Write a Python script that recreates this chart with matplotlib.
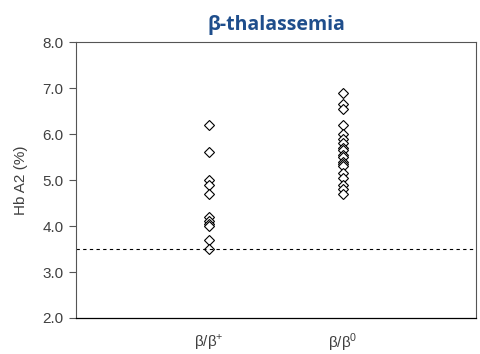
import matplotlib
matplotlib.use("Agg")
import matplotlib.pyplot as plt

# Hb A2 (%) values
groups = [r"β/β$^{+}$", r"β/β$^{0}$"]
beta_plus = [6.2, 5.6, 5.0, 4.9, 4.7, 4.2, 4.1, 4.05, 4.0, 3.7, 3.5]
beta_zero = [6.9, 6.65, 6.55, 6.2, 6.0, 5.9, 5.8, 5.7, 5.65, 5.55, 5.5,
             5.4, 5.35, 5.3, 5.15, 5.05, 4.9, 4.8, 4.7]
cutoff = 3.5
yticks = [2.0, 3.0, 4.0, 5.0, 6.0, 7.0, 8.0]

plt.rcParams["mathtext.fontset"] = "custom"
plt.rcParams["mathtext.rm"] = "Liberation Sans"

fig = plt.figure(figsize=(4.8, 3.54), dpi=100)
ax = fig.add_axes([0.158, 0.1017, 0.834, 0.7793])

for i, vals in enumerate([beta_plus, beta_zero], start=1):
    ax.plot([i] * len(vals), vals, linestyle="none", marker="D", ms=5.5,
            mfc="white", mec="black", mew=0.8)

ax.axhline(cutoff, color="black", lw=0.8, ls=(0, (3, 3)))

ax.set_xlim(0, 3)
ax.set_ylim(2.0, 8.0)
ax.set_yticks(yticks)
ax.set_yticklabels([f"{v:.1f}" for v in yticks], fontsize=11,
                   family="Liberation Sans", color="#404040")
ax.set_xticks([1, 2])
ax.set_xticklabels(groups, fontsize=11, family="Liberation Sans", color="#404040")
ax.tick_params(axis="x", length=0, pad=10)
ax.tick_params(axis="y", length=5, color="#555555", width=0.8, pad=4)

for side in ["left", "top", "right"]:
    ax.spines[side].set_color("#555555")
    ax.spines[side].set_linewidth(0.8)
ax.spines["bottom"].set_color("black")
ax.spines["bottom"].set_linewidth(0.9)

ax.set_ylabel("Hb A2 (%)", fontsize=11, family="Liberation Sans",
              color="#404040", labelpad=10)
ax.set_title("β-thalassemia", fontsize=14, fontweight="bold",
             family="Open Sans", color="#1F4E8C", pad=9)

fig.savefig("out.png", dpi=100)
